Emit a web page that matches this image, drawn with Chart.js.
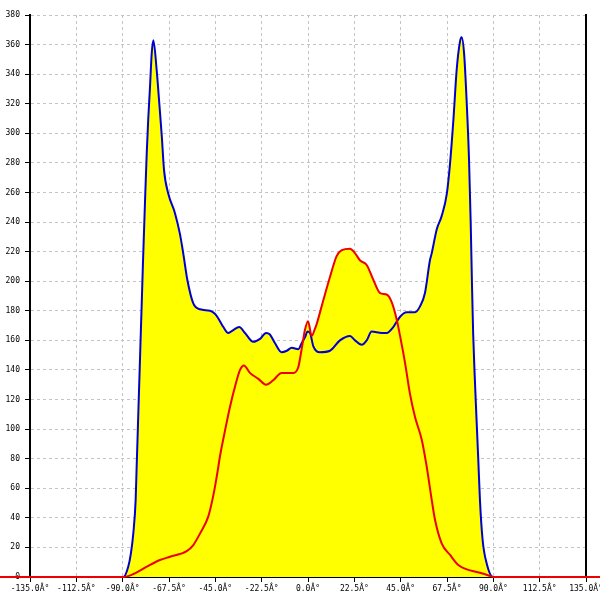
<!DOCTYPE html>
<html>
<head>
<meta charset="utf-8">
<script src="https://cdn.jsdelivr.net/npm/chart.js@4"></script>
<style>
html, body { margin: 0; padding: 0; background: #fff; }
</style>
</head>
<body>
<canvas id="chart" width="600" height="600"></canvas>
<script>
// blue series: angle (deg) / value
const blueAngles = [-135, -89.7, -87.3, -86.0, -84.8, -83.7, -83.2, -82.7, -82.2, -81.7, -81.2, -80.7, -80.2, -79.6, -79.0, -78.3, -77.6, -76.7, -75.9, -75.1,
    -73.5, -72.2, -71.0, -69.9, -67.8, -64.6, -62.2, -60.6, -58.6, -55.7, -52.4, -47.6, -45.2, -43.6, -41.1, -38.7, -36.3, -33.4, -30.6, -26.6,
    -23.3, -20.4, -18.5, -16.0, -12.8, -10.3, -7.9, -4.7, -3.1, -1.5, -0.2, 1.0, 2.6, 5.8, 10.7, 15.5, 20.4, 22.8, 26.1, 28.5,
    30.9, 35.8, 38.2, 41.4, 44.7, 47.9, 51.9, 54.4, 56.8, 59.2, 60.1, 62.5, 64.9, 67.4, 69.0, 70.6, 72.2, 73.8, 74.6, 75.8,
    77.1, 78.2, 79.0, 79.6, 80.2, 80.9, 81.8, 82.7, 83.5, 84.8, 86.8, 89.8, 135];
const blueValues = [0, 0, 7, 16, 30, 52, 75, 97, 120, 142, 165, 187, 210, 235, 260, 287, 309, 332, 354, 363,
    343, 320, 298, 275, 259, 246, 232, 219, 201, 185, 181, 180, 178, 175, 169, 165, 167, 169, 165, 159,
    161, 165, 164, 158, 152, 153, 155, 154, 158, 162, 166, 165, 156, 152, 153, 160, 163, 160, 157, 160,
    166, 165, 165, 169, 176, 179, 179, 183, 192, 214, 219, 235, 244, 259, 280, 309, 343, 362, 365, 354,
    320, 282, 240, 200, 165, 138, 108, 79, 52, 25, 9, 0, 0];

// red series
const redAngles = [-180, -89.7, -84.8, -78.3, -71.9, -67.0, -58.9, -55.7, -52.4, -48.4, -46.0, -44.3, -42.7, -40.3, -37.9, -35.4, -33.0, -31.1, -28.2, -24.1,
    -20.4, -16.9, -12.8, -7.1, -4.7, -3.1, -1.5, 0, 1.8, 3.4, 4.2, 7.4, 10.7, 13.9, 16.4, 20.4, 22.8, 25.3, 28.5, 31.7,
    35.0, 38.2, 40.6, 43.1, 44.7, 47.1, 49.5, 52.0, 55.2, 57.6, 60.1, 61.7, 64.9, 69.0, 73.0, 77.1, 83.5, 88.4, 89.8, 180];
const redValues = [0, 0, 2, 7, 11.5, 13.7, 17.5, 21.6, 29.5, 41, 55, 68, 82, 99, 115, 129, 140, 143, 138, 134,
    130, 133, 138, 138, 142, 154, 167, 173, 163, 168, 171, 187, 203, 217, 221, 222, 219, 214, 211, 201,
    192, 191, 186, 174, 163, 145, 124, 108, 93, 75, 52, 38.5, 22.8, 14.9, 8.1, 5.2, 2.9, 0.7, 0, 0];

const xMin = -135, xMax = 135, xStep = 22.5;
const yMin = 0, yMax = 380, yStep = 20;

const tickFont = { family: "DejaVu Sans Mono", size: 8 };

function toPoints(xs, ys) {
    return xs.map((x, i) => ({ x: x, y: ys[i] }));
}

const gridOpts = {
    color: "#c4c4c4",
    tickColor: "#000",
    tickLength: 5,
    tickBorderDash: []
};

new Chart(document.getElementById("chart"), {
    type: "line",
    data: {
        datasets: [{
            data: toPoints(redAngles, redValues),
            borderColor: "#ee0000",
            borderWidth: 2,
            backgroundColor: "#ffff00",
            fill: "origin",
            pointRadius: 0,
            cubicInterpolationMode: "monotone",
            clip: false
        }, {
            data: toPoints(blueAngles, blueValues),
            borderColor: "#0000d0",
            borderWidth: 2,
            backgroundColor: "#ffff00",
            fill: "origin",
            pointRadius: 0,
            cubicInterpolationMode: "monotone"
        }]
    },
    options: {
        responsive: false,
        animation: false,
        layout: { padding: { top: 15, left: 0, right: 0, bottom: 0 } },
        plugins: {
            legend: { display: false },
            tooltip: { enabled: false },
            filler: { drawTime: "beforeDatasetsDraw" }
        },
        scales: {
            x: {
                type: "linear",
                min: xMin,
                max: xMax,
                ticks: {
                    stepSize: xStep,
                    autoSkip: false,
                    maxRotation: 0,
                    padding: 2,
                    color: "#000",
                    font: tickFont,
                    callback: v => v.toFixed(1) + "Â°"
                },
                grid: gridOpts,
                border: { color: "#000", width: 2, dash: [3, 3] },
                afterFit: s => { s.height = 23; s.paddingLeft = 0; s.paddingRight = 0; }
            },
            y: {
                min: yMin,
                max: yMax,
                ticks: { stepSize: yStep, padding: 5, color: "#000", font: tickFont },
                grid: gridOpts,
                border: { color: "#000", width: 2, dash: [3, 3] },
                afterFit: s => { s.width = 30; s.paddingTop = 0; s.paddingBottom = 0; }
            },
            y2: {
                position: "right",
                min: yMin,
                max: yMax,
                ticks: { display: false },
                grid: { display: false },
                border: { color: "#000", width: 2 },
                afterFit: s => { s.width = 14; s.paddingTop = 0; s.paddingBottom = 0; }
            }
        }
    }
});
</script>
</body>
</html>
